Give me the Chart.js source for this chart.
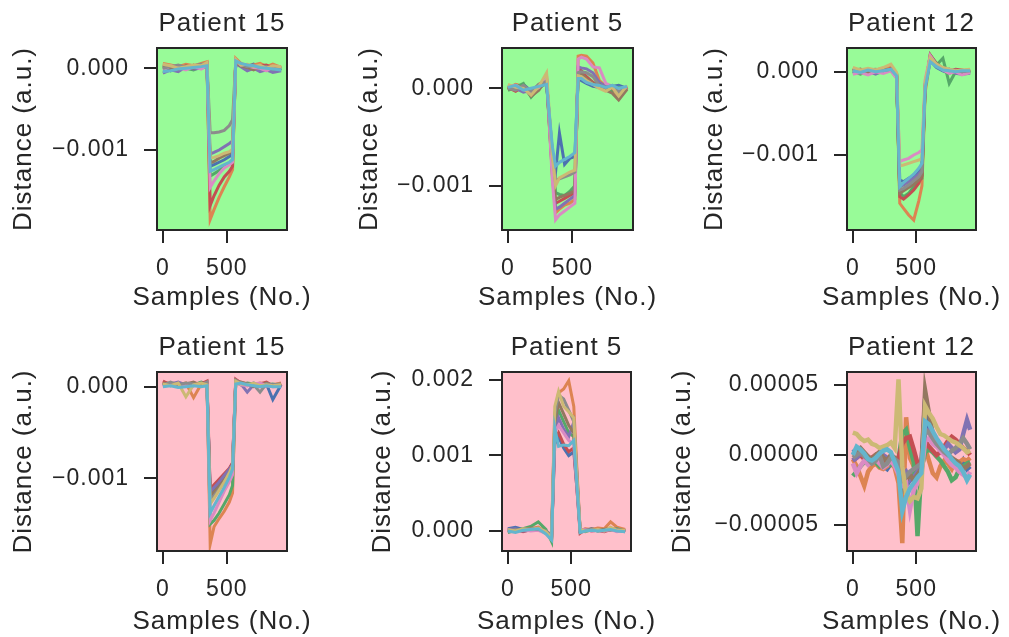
<!DOCTYPE html>
<html>
<head>
<meta charset="utf-8">
<script src="https://cdn.jsdelivr.net/npm/chart.js@4.4.0/dist/chart.umd.min.js"></script>
<style>
  html, body { margin: 0; padding: 0; background: #fff; }
  body { position: relative; width: 1009px; height: 637px; overflow: hidden; }
  canvas { position: absolute; }
</style>
</head>
<body>
<script>
// sample positions (No.) at which the traces were read off the figure
const samples = [0, 60, 120, 180, 240, 300, 345, 370, 400, 440, 480, 520, 545, 570, 610, 660, 710, 760, 810, 860, 925];
const noiseSamples = [0, 30, 60, 90, 120, 150, 180, 210, 240, 270, 300, 330, 360, 390, 420, 450,
  480, 510, 540, 570, 600, 630, 660, 690, 720, 750, 780, 810, 840, 870, 900, 925];
const xTicks = [0, 500];

// series order: blue, orange, green, red, purple, brown, pink, gray, olive, cyan
const seriesColors = ['#4C72B0', '#DD8452', '#55A868', '#C44E52', '#8172B3', '#937860', '#DA8BC3', '#8C8C8C', '#CCB974', '#64B5CD'];

// top row values in units of 1e-4
const p15Top = [
  [0.3, 0.2, -0.2, 0.4, 0.1, 0.3, 0.5, -12.0, -11.8, -11.5, -11.2, -10.8, -10.5, 0.8, 0.4, 0.2, 0.5, 0.2, -0.1, 0.3, -0.3],
  [0.6, 0.4, 0.2, 0.5, 0.3, 0.6, 0.8, -18.5, -17.3, -15.8, -14.5, -13.3, -12.4, 1.2, 0.6, 0.3, 0.4, 0.6, 0.2, 0.5, 0.1],
  [0.1, -0.3, 0.2, 0.0, -0.2, 0.2, 0.3, -13.2, -12.9, -12.5, -12.0, -11.6, -11.2, 0.7, 0.3, 0.0, 0.2, -0.1, 0.1, -0.2, 0.0],
  [0.4, 0.1, 0.3, -0.1, 0.4, 0.1, 0.6, -16.8, -15.6, -14.3, -13.3, -12.6, -12.0, 1.0, 0.5, 0.2, 0.1, 0.3, 0.4, 0.0, 0.2],
  [-0.6, -0.2, -0.4, 0.2, -0.1, 0.0, 0.2, -10.5, -10.3, -10.0, -9.6, -9.2, -8.9, 0.6, 0.2, -0.3, 0.0, -0.4, -0.2, -0.5, -0.3],
  [0.2, 0.0, -0.1, 0.3, 0.0, 0.4, 0.4, -11.6, -11.4, -11.0, -10.7, -10.4, -10.1, 0.7, 0.3, 0.1, -0.2, 0.2, 0.0, 0.1, -0.1],
  [-0.2, 0.3, 0.1, -0.2, 0.2, -0.1, 0.4, -14.6, -13.8, -12.9, -12.2, -11.8, -11.5, 0.9, 0.4, 0.3, 0.1, 0.0, -0.3, 0.2, 0.0],
  [0.0, 0.2, 0.4, 0.1, 0.3, 0.5, 0.5, -7.9, -7.9, -7.8, -7.6, -7.0, -6.3, 0.8, 0.5, 0.2, 0.3, 0.1, 0.2, -0.1, 0.1],
  [0.5, 0.3, 0.0, 0.2, 0.4, 0.3, 0.7, -11.0, -10.9, -10.7, -10.4, -10.2, -9.9, 1.1, 0.4, 0.5, 0.2, 0.4, 0.0, 0.3, 0.2],
  [-0.4, -0.3, -0.1, 0.0, 0.1, 0.2, 0.3, -12.6, -12.4, -12.1, -11.8, -11.5, -11.2, 0.9, 0.6, 0.4, 0.3, 0.1, 0.0, -0.1, -0.2],
];
const p5Top = [
  [0.2, -0.1, 0.4, -0.3, 0.1, 0.5, -6.5, -8.6, -4.6, -7.8, -7.2, -7.0, 1.2, 0.8, 0.5, 0.2, 0.1, -0.2, 0.2, 0.3, 0.0],
  [0.0, 0.4, 0.2, -0.6, 0.3, 1.2, -9.0, -12.8, -12.4, -12.0, -11.8, -11.4, 3.3, 3.4, 3.3, 2.6, 0.8, 0.2, -0.4, -1.1, 0.1],
  [-0.2, 0.1, 0.5, -0.9, 0.0, 0.6, -7.5, -10.7, -10.9, -11.0, -10.6, -10.0, 1.5, 1.4, 0.9, 0.5, 0.2, 0.0, -0.3, 0.1, -0.2],
  [0.1, -0.3, 0.2, -0.5, 0.4, 0.9, -8.5, -11.8, -11.6, -11.3, -11.0, -10.7, 2.0, 1.8, 1.2, 0.6, 0.3, -0.1, 0.0, -0.6, 0.1],
  [0.3, 0.0, -0.4, -0.2, 0.2, 0.8, -8.8, -12.4, -12.2, -11.8, -11.4, -11.0, 2.2, 2.1, 2.0, 1.6, 0.6, 0.2, 0.1, -0.3, 0.0],
  [-0.1, 0.2, 0.1, -0.8, -0.2, 1.0, -8.2, -11.4, -11.2, -11.0, -10.8, -10.5, 1.8, 1.5, 1.0, 0.5, 0.4, -0.2, -0.5, -1.2, -0.1],
  [0.2, 0.3, -0.1, -0.4, 0.1, 1.4, -9.5, -13.5, -13.0, -12.6, -12.2, -11.8, 3.0, 3.2, 3.0, 2.2, 2.1, 0.5, 0.2, -0.2, 0.1],
  [0.0, -0.2, 0.3, -0.3, 0.4, 0.7, -6.8, -9.4, -9.3, -9.1, -8.9, -8.6, 1.6, 1.7, 1.6, 1.2, 0.3, 0.1, 0.3, -0.4, 0.2],
  [0.4, 0.1, 0.0, -0.7, 0.2, 1.6, -7.0, -10.0, -9.2, -8.9, -8.6, -8.4, 1.3, 1.2, 0.8, 0.4, 0.0, -0.3, 0.1, -0.8, 0.3],
  [0.1, 0.3, -0.2, 0.0, 0.2, 0.4, -6.0, -8.0, -7.6, -7.3, -7.0, -6.6, 1.0, 1.0, 0.6, 0.4, 0.3, 0.1, 0.3, 0.0, 0.2],
];
const p12Top = [
  [0.2, 0.0, -0.2, 0.1, 0.3, 0.4, -0.3, -13.0, -13.2, -12.8, -12.5, -12.0, -11.5, -1.5, 1.3, 0.5, 0.1, -0.2, 0.2, 0.0, -0.1],
  [0.3, 0.2, 0.0, 0.2, 0.4, 0.5, -0.2, -15.8, -16.4, -17.2, -17.8, -15.5, -13.7, -2.5, 1.5, 0.7, 0.3, 0.2, -0.2, 0.1, 0.2],
  [0.0, -0.3, 0.1, -0.2, 0.0, 0.2, -0.6, -14.5, -15.0, -14.6, -13.8, -13.0, -12.8, -2.0, 1.4, 0.8, 1.6, -1.4, 0.0, -0.1, 0.0],
  [0.4, 0.1, 0.3, 0.2, -0.1, 0.4, -0.4, -15.0, -15.3, -14.8, -14.2, -13.4, -12.5, -1.8, 2.0, 0.9, 0.3, 0.0, 0.3, 0.2, 0.0],
  [-0.2, 0.2, 0.0, -0.3, 0.2, 0.1, -0.7, -13.8, -13.6, -13.2, -12.8, -12.3, -11.8, -1.6, 1.6, 0.6, 0.2, 0.3, -0.2, -0.3, -0.2],
  [0.1, 0.3, -0.1, 0.1, 0.3, 0.2, -0.3, -14.6, -14.3, -13.9, -13.5, -13.0, -12.4, -1.9, 2.0, 1.0, 0.4, 0.2, 0.1, -0.1, 0.1],
  [-0.3, -0.1, -0.4, 0.0, -0.2, 0.1, -0.8, -10.8, -10.6, -10.4, -10.0, -9.7, -9.4, -1.0, 1.9, 0.8, 0.2, -0.2, 0.0, -0.4, -0.1],
  [0.2, 0.1, 0.2, 0.3, 0.1, 0.3, -0.4, -14.2, -14.0, -13.6, -13.1, -12.6, -12.0, -1.7, 1.5, 0.7, 0.3, 0.1, 0.2, 0.0, 0.1],
  [0.5, 0.2, 0.4, 0.2, 0.5, 0.9, -0.1, -11.3, -11.2, -11.0, -10.8, -10.6, -10.4, -1.2, 1.7, 0.9, 0.5, 0.3, 0.1, 0.2, 0.3],
  [0.1, -0.1, 0.2, 0.0, 0.1, 0.3, -0.5, -13.8, -13.3, -12.8, -12.3, -11.6, -11.0, -2.0, 1.2, 0.6, 0.2, 0.1, 0.0, 0.1, 0.1],
];

// bottom row values, units of 1e-4 (Patient 12: 1e-6)
const p15Bottom = [
  [0.3, 0.2, 0.4, 0.2, 0.3, 0.2, 0.4, -11.8, -11.2, -10.5, -9.8, -9.0, -8.4, 0.6, 0.3, 0.2, 0.4, 0.2, 0.3, -1.4, 0.2],
  [0.5, 0.3, 0.2, 0.4, -1.2, 0.3, 0.5, -17.2, -15.3, -14.4, -13.6, -12.6, -11.6, 0.7, 0.5, 0.3, 0.2, 0.4, 0.3, 0.2, 0.4],
  [0.2, 0.4, 0.1, 0.3, 0.2, 0.5, 0.3, -15.0, -14.6, -13.8, -12.8, -11.8, -10.8, 0.5, 0.2, 0.4, 0.3, 0.1, 0.2, 0.3, 0.1],
  [0.6, 0.2, 0.3, 0.1, 0.4, 0.3, 0.6, -11.2, -10.7, -10.1, -9.5, -8.9, -8.3, 0.8, 0.4, 0.1, 0.2, 0.3, 0.5, 0.1, 0.3],
  [0.1, 0.3, 0.5, 0.2, 0.1, 0.4, 0.2, -11.5, -11.0, -10.4, -9.7, -9.0, -8.5, 0.6, 0.3, -0.6, 0.2, 0.0, 0.1, 0.2, 0.0],
  [0.4, 0.1, 0.2, 0.3, 0.5, 0.1, 0.3, -12.0, -11.5, -10.9, -10.2, -9.5, -8.9, 0.4, 0.5, 0.3, 0.0, 0.2, 0.4, 0.1, 0.2],
  [0.0, 0.2, 0.3, 0.1, 0.2, 0.3, 0.4, -14.6, -13.8, -12.6, -11.4, -10.4, -9.6, 0.5, 0.2, 0.1, 0.3, 0.4, 0.1, 0.0, 0.1],
  [0.2, 0.5, 0.2, 0.4, 0.3, 0.2, 0.5, -12.4, -11.9, -11.2, -10.4, -9.6, -8.8, 0.7, 0.4, 0.3, 0.2, -0.6, 0.3, 0.2, 0.3],
  [0.3, 0.1, 0.4, -1.1, 0.2, 0.4, 0.2, -12.8, -12.2, -11.3, -10.4, -9.4, -8.6, 0.6, 0.3, 0.2, 0.4, 0.1, 0.2, 0.1, 0.2],
  [0.0, 0.1, -0.1, 0.0, 0.1, 0.0, 0.1, -13.8, -13.0, -12.0, -11.0, -9.9, -9.0, 0.3, 0.4, 0.2, 0.1, 0.0, 0.1, 0.0, 0.0],
];
const p5Bottom = [
  [0.3, 0.5, 0.2, 0.1, 0.4, 0.0, -0.6, 11.5, 12.5, 11.0, 10.0, 10.5, 5.5, 0.2, 0.1, 0.3, 0.1, 0.0, 0.3, 0.1, 0.0],
  [0.1, 0.0, 0.2, 0.3, 0.5, -0.2, -0.8, 15.0, 18.3, 18.8, 19.9, 16.5, 8.0, 0.0, 0.3, 0.2, 0.4, 0.3, 1.2, 0.5, 0.2],
  [-0.2, 0.1, 0.3, 0.6, 1.2, 0.2, -1.4, 14.0, 16.0, 14.5, 13.0, 12.5, 6.5, 0.1, -0.1, 0.2, 0.0, 0.2, 0.1, 0.3, 0.0],
  [0.1, 0.2, -0.1, 0.2, 0.3, -0.3, -0.9, 12.0, 13.0, 11.5, 10.5, 11.0, 5.5, -0.3, 0.2, 0.0, 0.1, -0.1, 0.2, 0.0, 0.1],
  [0.2, 0.3, 0.0, 0.1, 0.2, -0.1, -0.7, 13.0, 15.0, 13.5, 12.5, 14.4, 7.0, 0.0, 0.1, 0.1, 0.2, 0.0, 0.3, 0.2, -0.1],
  [0.0, 0.1, 0.2, 0.4, 0.3, -0.2, -1.0, 14.5, 17.0, 15.5, 14.0, 13.0, 6.5, -0.1, 0.0, 0.3, 0.1, 0.2, 0.4, 0.1, 0.0],
  [0.1, -0.1, 0.2, 0.0, 0.1, -0.3, -0.8, 13.0, 14.0, 13.0, 12.0, 11.5, 6.0, 0.1, 0.2, 0.0, 0.1, 0.0, 0.2, -0.1, 0.1],
  [-0.1, 0.2, 0.1, 0.3, 0.2, 0.0, -0.6, 15.5, 18.0, 17.5, 16.0, 14.5, 7.5, 0.0, 0.1, 0.2, 0.0, 0.1, 0.3, 0.2, 0.0],
  [0.2, 0.0, 0.3, 0.2, 0.4, -0.1, -0.9, 16.5, 18.5, 16.5, 15.8, 15.0, 7.0, 0.2, 0.0, 0.1, 0.2, 0.0, 0.5, 0.1, 0.1],
  [0.0, -0.2, 0.1, 0.2, 0.3, -0.4, -1.2, 13.7, 11.2, 11.4, 11.3, 12.0, 6.0, -0.2, 0.0, 0.1, 0.0, 0.1, 0.2, 0.0, -0.1],
];
const p12Bottom = [
  [2, 4, 3, -2, -4, -6, -3, -1, -8, -10, -6, -3, -6, -20, -22, -18, -15, -12, -8, 40, 20, 12, 9, 5, 2, -1, -4, -6, -9, -4, -10, -8],
  [-3, -8, -15, -22, -12, -8, -6, -9, -10, -8, -6, -9, -20, -63, 27, -2, -8, -10, -12, 5, -4, -13, -16, -8, -4, -6, -10, -4, -5, -3, -4, -2],
  [-15, -12, -8, -5, -6, -3, -5, -8, -6, -4, -7, -5, -3, 15, 18, 5, -5, -58, -10, 2, 4, 2, -1, -4, -8, -12, -18, -16, -10, -8, -6, -5],
  [-4, -2, 0, -3, -5, -2, 0, -4, -6, -3, -1, -4, -2, 8, 12, 13, 4, -6, -8, 10, 6, 3, 0, 2, 6, 10, 13, 11, 8, 5, 3, 0],
  [-4, -2, 1, 0, -3, -5, -2, 2, 0, -2, -3, -6, -10, -15, -12, -18, -16, -12, -8, 15, 18, 14, 9, 6, 4, 8, 5, 2, 4, 15, 25, 18],
  [0, 3, 5, 2, -1, -3, 0, 2, -2, -4, 0, -2, -8, -25, -18, -14, -18, -14, -10, 46, 30, 15, 10, 6, 3, 0, -2, -4, -6, -10, -8, -6],
  [-6, -13, -8, -4, -7, -5, -3, -6, -9, -7, -4, -8, -14, -22, -20, -39, -25, -20, -15, 10, 12, 8, 6, 3, 0, -4, -7, -9, -12, -14, -16, -12],
  [-2, 0, 2, -1, -3, -6, -4, 0, -8, -6, -2, -3, -5, -18, -15, -12, -10, -8, -6, 18, 16, 12, 8, 5, 2, 0, 3, 5, 8, 12, 8, 4],
  [16, 15, 12, 10, 11, 8, 7, 5, 6, 7, 9, 5, 54, -8, -28, -33, -30, -31, -24, 35, 30, 26, 20, 15, 14, 12, 10, 9, 7, 5, 2, 3],
  [0, 6, 4, 1, -3, -4, -2, 1, 3, 4, 2, -5, -12, -40, -30, -24, -20, -16, -13, 24, 22, 17, 12, 8, 4, 1, -3, -6, -8, -12, -18, -14],
];

const yTicksSmall = [0, -0.001];
const yTicksP5 = [0, 0.001, 0.002];
const yTicksP12 = [-0.00005, 0, 0.00005];

const panels = [
  { title: 'Patient 15', series: p15Top, x: samples, unit: 1e-4, ticks: yTicksSmall, digits: 3, min: -0.001979, max: 0.000248, bg: '#98FB98' },
  { title: 'Patient 5', series: p5Top, x: samples, unit: 1e-4, ticks: yTicksSmall, digits: 3, min: -0.001455, max: 0.000414, bg: '#98FB98' },
  { title: 'Patient 12', series: p12Top, x: samples, unit: 1e-4, ticks: yTicksSmall, digits: 3, min: -0.0019, max: 0.000284, bg: '#98FB98' },
  { title: 'Patient 15', series: p15Bottom, x: samples, unit: 1e-4, ticks: yTicksSmall, digits: 3, min: -0.001794, max: 0.00016, bg: '#FFC0CB' },
  { title: 'Patient 5', series: p5Bottom, x: samples, unit: 1e-4, ticks: yTicksP5, digits: 3, min: -0.000265, max: 0.002106, bg: '#FFC0CB' },
  { title: 'Patient 12', series: p12Bottom, x: noiseSamples, unit: 1e-6, ticks: yTicksP12, digits: 5, min: -0.0000686, max: 0.0000593, bg: '#FFC0CB', lw: 4.5 },
];

// plot-area boxes [left, top, right, bottom], y-axis band width, y-title offset
const boxes = [
  { area: [157, 48, 287, 230], yw: 157, ytPad: 8.4 },
  { area: [502, 48, 633, 230], yw: 157, ytPad: 9.4 },
  { area: [847, 48, 976, 230], yw: 157, ytPad: 9.4 },
  { area: [157, 372, 287, 551], yw: 157, ytPad: 8.4 },
  { area: [502, 372, 631, 551], yw: 157, ytPad: 22.4 },
  { area: [847, 372, 976, 551], yw: 180, ytPad: 0.4 },
];

const ink = '#262626';
Chart.defaults.font.family = "'Liberation Sans', Arial, sans-serif";
Chart.defaults.color = ink;

const frame = {
  id: 'frame',
  beforeDraw(chart, args, opts) {
    const { ctx, chartArea: a } = chart;
    ctx.letterSpacing = '1px';
    ctx.save();
    ctx.fillStyle = opts.bg;
    ctx.fillRect(a.left, a.top, a.right - a.left, a.bottom - a.top);
    ctx.restore();
  },
  afterDraw(chart) {
    const { ctx, chartArea: a } = chart;
    ctx.save();
    ctx.strokeStyle = ink;
    ctx.lineWidth = 2;
    ctx.strokeRect(a.left, a.top, a.right - a.left, a.bottom - a.top);
    ctx.restore();
  },
};

function fmt(v, digits) {
  return v.toFixed(digits).replace('-', '\u2212');
}

panels.forEach((p, i) => {
  const b = boxes[i];
  const [l, t, r, bt] = b.area;
  const topRow = t < 300;
  const canvasTop = t - 40;
  const canvasBottom = topRow ? 316 : 637;
  const subPad = topRow ? 2.4 : 0;
  const canvas = document.createElement('canvas');
  const w = b.yw * 2 + (r - l);
  const h = canvasBottom - canvasTop;
  canvas.width = w;
  canvas.height = h;
  canvas.style.left = (l - b.yw) + 'px';
  canvas.style.top = canvasTop + 'px';
  canvas.style.width = w + 'px';
  canvas.style.height = h + 'px';
  document.body.appendChild(canvas);

  const datasets = p.series.map((vals, k) => ({
    data: p.x.map((s, j) => ({ x: s, y: vals[j] * p.unit })),
    borderColor: seriesColors[k],
    borderWidth: p.lw || 3,
    pointRadius: 0,
    tension: 0,
  })).reverse(); // first dataset is drawn on top in Chart.js

  new Chart(canvas, {
    type: 'line',
    data: { datasets },
    options: {
      responsive: false,
      animation: false,
      devicePixelRatio: 1,
      layout: { padding: 0 },
      plugins: {
        legend: { display: false },
        tooltip: { enabled: false },
        frame: { bg: p.bg },
        title: {
          display: true, text: p.title, color: ink,
          font: { size: 26, weight: 'normal', lineHeight: 1.2 },
          padding: { top: 0, bottom: 8.8 },
        },
        subtitle: {
          display: true, position: 'bottom', text: 'Samples (No.)', color: ink,
          font: { size: 26, weight: 'normal', lineHeight: 1.2 },
          padding: { top: 0, bottom: subPad },
        },
      },
      scales: {
        x: {
          type: 'linear', min: -46, max: 971, bounds: 'data',
          afterBuildTicks: (s) => { s.ticks = xTicks.map((v) => ({ value: v })); },
          afterFit: (s) => { s.height = 86 - 31.2 - subPad; },
          ticks: { font: { size: 23 }, color: ink, padding: 12, maxRotation: 0, callback: (v) => String(v) },
          grid: { drawOnChartArea: false, tickLength: 13, color: ink, lineWidth: 2 },
          border: { display: true, color: ink, width: 2 },
        },
        y: {
          type: 'linear', min: p.min, max: p.max, bounds: 'data',
          afterBuildTicks: (s) => { s.ticks = p.ticks.map((v) => ({ value: v })); },
          afterFit: (s) => { s.width = b.yw; },
          ticks: { font: { size: 23 }, color: ink, padding: 15, callback: (v) => fmt(v, p.digits) },
          grid: { drawOnChartArea: false, tickLength: 13, color: ink, lineWidth: 2 },
          border: { display: true, color: ink, width: 2 },
          title: {
            display: true, text: 'Distance (a.u.)', color: ink,
            font: { size: 26, weight: 'normal', lineHeight: 1.2 },
            padding: { top: b.ytPad, bottom: 0 },
          },
        },
        // empty band on the right so the titles centre over the plot area
        spacer: {
          type: 'linear', position: 'right', display: true,
          ticks: { display: false }, grid: { display: false }, border: { display: false },
          afterFit: (s) => { s.width = b.yw; },
        },
      },
    },
    plugins: [frame],
  });
});
</script>
</body>
</html>
